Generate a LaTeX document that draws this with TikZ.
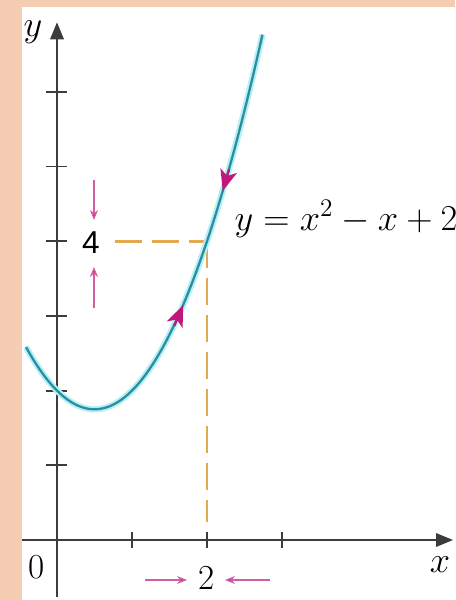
\documentclass[tikz,border=0pt]{standalone}
\usepackage{fontspec}
\newfontfamily\labelsans{Liberation Sans}
\usetikzlibrary{arrows.meta, positioning, calc}

\definecolor{peach}{HTML}{F4CDB2}
\definecolor{curveteal}{HTML}{2B8E9E}
\definecolor{curveglow}{HTML}{B4F0F6}
\definecolor{guideorange}{HTML}{E2A94F}
\definecolor{markmagenta}{HTML}{C0187A}
\definecolor{axisgray}{HTML}{3C3C3C}

\begin{document}
\begin{tikzpicture}[x=1.5cm, y=1.494cm,
  axis/.style={draw=axisgray, line width=1.1pt, -{Triangle[length=0.34cm, width=0.27cm]}},
  tickmark/.style={draw=axisgray, line width=1.1pt},
  guide/.style={draw=guideorange, line width=1.6pt, dash pattern=on 0.54cm off 0.2cm},
  glow/.style={draw=curveglow, line width=3.6pt},
  curve/.style={draw=curveteal, line width=1.3pt},
  flow/.style={draw=markmagenta, fill=markmagenta, line width=1.3pt, -{Stealth[length=0.42cm, width=0.34cm, inset=0.11cm]}},
  hint/.style={draw=markmagenta!70, line width=0.7pt, -{Stealth[length=0.2cm, width=0.16cm, fill=markmagenta]}},
  lbl/.style={font=\fontsize{20}{24}\selectfont, inner sep=1pt}
]
  \useasboundingbox (-0.76,-0.803) rectangle (5.307,7.229);
  \fill[peach] (-0.76,-0.803) rectangle (5.307,7.229);
  \fill[white] (-0.467,-0.803) rectangle (5.307,7.135);

  % axes and ticks
  \coordinate (xstart) at (-0.467,0);
  \coordinate (xend) at (5.28,0);
  \coordinate (ystart) at (0,-0.763);
  \coordinate (yend) at (0,6.93);
  \draw[axis] (xstart) -- (xend);
  \draw[axis] (ystart) -- (yend);
  \foreach \i in {1,...,6}
    \draw[tickmark] ([xshift=-0.22cm]0,\i) -- ([xshift=0.2cm]0,\i);
  \foreach \i in {1,2,3}
    \draw[tickmark] ([yshift=-0.16cm]\i,0) -- ([yshift=0.16cm]\i,0);

  % dashed guides to (2,4)
  \coordinate (P) at (2,4);
  \coordinate (guideleft) at (0.773,4);
  \coordinate (guidefoot) at (2,0.24);
  \draw[guide] (guideleft) -- (P);
  \draw[guide] (P) -- (guidefoot);

  % the parabola
  \draw[glow] plot[domain=-0.413:2.74, samples=80, smooth] (\x, {\x*\x-\x+2});
  \draw[curve] plot[domain=-0.413:2.74, samples=80, smooth] (\x, {\x*\x-\x+2});
  \coordinate (uptail) at (1.563,2.866);
  \coordinate (uptip) at (1.68,3.142);
  \coordinate (downtail) at (2.294,4.962);
  \coordinate (downtip) at (2.21,4.674);
  \draw[flow] (uptail) -- (uptip);
  \draw[flow] (downtail) -- (downtip);

  % labels
  \node[lbl] (ylabel) at (-0.32,6.8) {$y$};
  \node[lbl] (xlabel) at (5.107,-0.335) {$x$};
  \node[lbl] (origin) at (-0.267,-0.361) {0};
  \node[lbl, font=\fontsize{18}{22}\labelsans] (four) at (0.453,3.976) {4};
  \node[lbl] (two) at (2,-0.51) {2};
  \node[lbl, anchor=west, font=\fontsize{21}{25}\selectfont] (eqn) at (2.34,4.3) {$y=x^2-x+2$};

  % approach arrows
  \coordinate (abovefour) at (0.493,4.819);
  \coordinate (abovefourend) at (0.493,4.284);
  \coordinate (belowfour) at (0.493,3.106);
  \coordinate (belowfourend) at (0.493,3.655);
  \coordinate (lefttwo) at (1.173,-0.535);
  \coordinate (lefttwoend) at (1.733,-0.535);
  \coordinate (righttwo) at (2.84,-0.535);
  \coordinate (righttwoend) at (2.24,-0.535);
  \draw[hint] (abovefour) -- (abovefourend);
  \draw[hint] (belowfour) -- (belowfourend);
  \draw[hint] (lefttwo) -- (lefttwoend);
  \draw[hint] (righttwo) -- (righttwoend);
\end{tikzpicture}
\end{document}
